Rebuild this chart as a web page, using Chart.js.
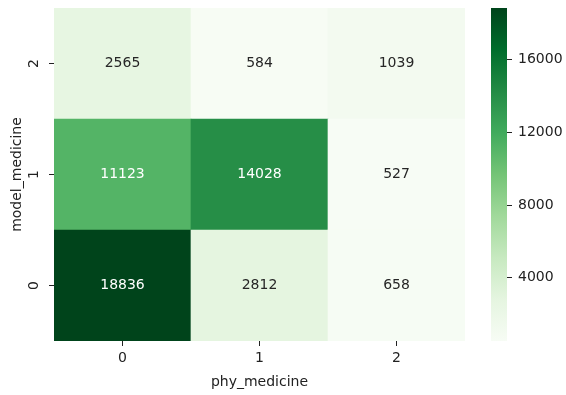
<!DOCTYPE html>
<html>
<head>
<meta charset="utf-8">
<script src="https://cdn.jsdelivr.net/npm/chart.js@4/dist/chart.umd.min.js"></script>
<style>
  html, body { margin: 0; padding: 0; background: #fff; }
  #wrap { position: relative; width: 566px; height: 395px; overflow: hidden; }
  #heat { position: absolute; left: 0; top: 0; }
  #cbar { position: absolute; left: 480px; top: 0; }
</style>
</head>
<body>
<div id="wrap">
  <canvas id="heat" width="480" height="395"></canvas>
  <canvas id="cbar" width="86" height="395"></canvas>
</div>
<script>
// Confusion counts: rows = model_medicine, columns = phy_medicine
const rowLabels = ['0', '1', '2'];
const colLabels = ['0', '1', '2'];
const row0 = [18836, 2812, 658];
const row1 = [11123, 14028, 527];
const row2 = [2565, 584, 1039];
const counts = [row0, row1, row2];
const colorbarTicks = [4000, 8000, 12000, 16000];
const xTitle = 'phy_medicine';
const yTitle = 'model_medicine';

const FONT = { family: "'DejaVu Sans', sans-serif", size: 14 };
const TEXT = '#222';

// "Greens" sequential colour ramp (9 evenly spaced stops)
const GREENS = ['#f7fcf5', '#e5f5e0', '#c7e9c0', '#a1d99b', '#74c476',
                '#41ab5d', '#238b45', '#006d2c', '#00441b'];
const allValues = counts.flat();
const vmin = Math.min(...allValues);
const vmax = Math.max(...allValues);

function hexToRgb(h) {
  return [1, 3, 5].map(i => parseInt(h.slice(i, i + 2), 16));
}
function rampRgb(v) {
  let t = (v - vmin) / (vmax - vmin);
  t = Math.max(0, Math.min(1, t));
  const pos = t * (GREENS.length - 1);
  const i = Math.min(Math.floor(pos), GREENS.length - 2);
  const f = pos - i;
  const a = hexToRgb(GREENS[i]), b = hexToRgb(GREENS[i + 1]);
  return a.map((c, k) => Math.round(c + (b[k] - c) * f));
}
function colorFor(v) {
  const [r, g, b] = rampRgb(v);
  return `rgb(${r},${g},${b})`;
}
function textColorFor(v) {
  const lin = rampRgb(v).map(c => {
    c /= 255;
    return c <= 0.03928 ? c / 12.92 : Math.pow((c + 0.055) / 1.055, 2.4);
  });
  const lum = 0.2126 * lin[0] + 0.7152 * lin[1] + 0.0722 * lin[2];
  return lum > 0.408 ? '#262626' : '#ffffff';
}

// Keeps the plot area exactly where the layout padding puts it
function noLabelOverhang(s) {
  s.paddingTop = 0;
  s.paddingBottom = 0;
  s.paddingLeft = 0;
  s.paddingRight = 0;
}

// Writes each cell's count in its centre
const cellLabels = {
  id: 'cellLabels',
  afterDatasetsDraw(chart) {
    const ctx = chart.ctx;
    ctx.save();
    ctx.font = `${FONT.size}px ${FONT.family}`;
    ctx.textAlign = 'center';
    ctx.textBaseline = 'middle';
    chart.data.datasets.forEach((ds, i) => {
      chart.getDatasetMeta(i).data.forEach((el, j) => {
        const p = el.getProps(['x', 'y', 'base'], true);
        const v = counts[i][j];
        ctx.fillStyle = textColorFor(v);
        ctx.fillText(String(v), p.x, (p.y + p.base) / 2);
      });
    });
    ctx.restore();
  }
};

new Chart(document.getElementById('heat'), {
  type: 'bar',
  data: {
    labels: colLabels,
    datasets: rowLabels.map((r, i) => ({
      label: r,
      data: colLabels.map(() => [i, i + 1]),
      backgroundColor: counts[i].map(colorFor),
      borderWidth: 0,
      borderSkipped: false,
      grouped: false,
      barPercentage: 1,
      categoryPercentage: 1
    }))
  },
  options: {
    responsive: false,
    animation: false,
    events: [],
    layout: { padding: { left: 0, top: 8, right: 15, bottom: 0 } },
    plugins: { legend: { display: false }, tooltip: { enabled: false } },
    scales: {
      x: {
        type: 'category',
        offset: true,
        grid: { offset: false, drawOnChartArea: false, drawTicks: true, tickLength: 5, tickColor: '#222', tickWidth: 1 },
        border: { display: false },
        ticks: { font: FONT, color: TEXT, padding: 4, maxRotation: 0 },
        title: { display: true, text: xTitle, font: FONT, color: TEXT, padding: { top: 0, bottom: 4 } },
        afterFit(s) { s.height = 54; noLabelOverhang(s); }
      },
      y: {
        type: 'linear',
        min: 0,
        max: 3,
        afterBuildTicks(s) { s.ticks = rowLabels.map((_, i) => ({ value: i + 0.5 })); },
        grid: { drawOnChartArea: false, drawTicks: true, tickLength: 5, tickColor: '#222', tickWidth: 1 },
        border: { display: false },
        ticks: {
          font: FONT, color: TEXT, padding: 10,
          minRotation: 90, maxRotation: 90, crossAlign: 'center',
          callback: v => rowLabels[Math.floor(v)]
        },
        title: { display: true, text: yTitle, font: FONT, color: TEXT, padding: { top: 9, bottom: 0 } },
        afterFit(s) { s.width = 54; noLabelOverhang(s); }
      }
    }
  },
  plugins: [cellLabels]
});

// Colour bar: one floating bar spanning the value range, filled with the ramp
new Chart(document.getElementById('cbar'), {
  type: 'bar',
  data: {
    labels: [''],
    datasets: [{
      data: [[vmin, vmax]],
      backgroundColor(ctx) {
        const chart = ctx.chart;
        if (!chart.chartArea) return GREENS[4];
        const ys = chart.scales.y;
        const g = chart.ctx.createLinearGradient(0, ys.getPixelForValue(vmin), 0, ys.getPixelForValue(vmax));
        GREENS.forEach((c, i) => g.addColorStop(i / (GREENS.length - 1), c));
        return g;
      },
      borderWidth: 0,
      borderSkipped: false,
      barPercentage: 1,
      categoryPercentage: 1
    }]
  },
  options: {
    responsive: false,
    animation: false,
    events: [],
    layout: { padding: { left: 11, top: 8, right: 0, bottom: 54 } },
    plugins: { legend: { display: false }, tooltip: { enabled: false } },
    scales: {
      x: { display: false },
      y: {
        position: 'right',
        min: vmin,
        max: vmax,
        afterBuildTicks(s) { s.ticks = colorbarTicks.map(v => ({ value: v })); },
        grid: { drawOnChartArea: false, drawTicks: true, tickLength: 5, tickColor: '#222', tickWidth: 1 },
        border: { display: false },
        ticks: { font: FONT, color: TEXT, padding: 6, callback: v => String(v) },
        afterFit(s) { s.width = 59; noLabelOverhang(s); }
      }
    }
  }
});
</script>
</body>
</html>
